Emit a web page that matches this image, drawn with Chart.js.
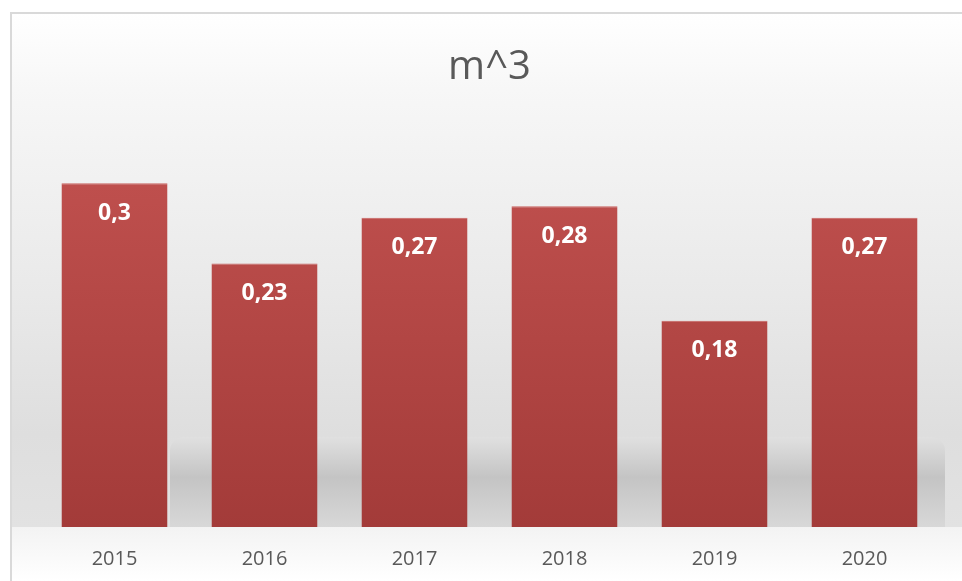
<!DOCTYPE html>
<html>
<head>
<meta charset="utf-8">
<script src="https://cdn.jsdelivr.net/npm/chart.js@4"></script>
<style>
  html, body { margin: 0; padding: 0; background: #fff; }
  #wrap { width: 962px; height: 581px; }
</style>
</head>
<body>
<div id="wrap"><canvas id="chart" width="962" height="581"></canvas></div>
<script>
// values
const years = ['2015', '2016', '2017', '2018', '2019', '2020'];
const volumes = [0.3, 0.23, 0.27, 0.28, 0.18, 0.27];
const valueLabels = ['0,3', '0,23', '0,27', '0,28', '0,18', '0,27'];

const FONT = "'Open Sans', 'Liberation Sans', sans-serif";

// backdrop: soft gray gradient, floor shadow and the thin frame
const backdrop = {
    id: 'backdrop',
    beforeDraw(chart) {
        const ctx = chart.ctx;
        const area = chart.chartArea;
        const w = chart.width, h = chart.height;
        ctx.save();
        ctx.fillStyle = '#fff';
        ctx.fillRect(0, 0, w, h);

        let g = ctx.createLinearGradient(0, 12, 0, area.bottom);
        g.addColorStop(0, '#ffffff');
        g.addColorStop(0.15, '#f7f7f7');
        g.addColorStop(0.55, '#e9e9e9');
        g.addColorStop(0.82, '#dedede');
        g.addColorStop(1, '#e2e2e2');
        ctx.fillStyle = g;
        ctx.fillRect(11, 13, w, area.bottom - 13);

        // floor shadow behind the bars
        const top = area.bottom - 90;
        g = ctx.createLinearGradient(0, top, 0, area.bottom);
        g.addColorStop(0, '#e0e0e0');
        g.addColorStop(0.45, '#c4c4c4');
        g.addColorStop(1, '#d8d8d8');
        ctx.fillStyle = g;
        ctx.beginPath();
        ctx.roundRect(170, top, 775, area.bottom - top, [14, 14, 0, 0]);
        ctx.fill();

        g = ctx.createLinearGradient(0, area.bottom, 0, h);
        g.addColorStop(0, '#f3f3f3');
        g.addColorStop(1, '#ffffff');
        ctx.fillStyle = g;
        ctx.fillRect(11, area.bottom, w, h - area.bottom);

        ctx.strokeStyle = '#d9d9d9';
        ctx.lineWidth = 2;
        ctx.strokeRect(11, 13, w + 20, h + 20);
        ctx.restore();
    }
};

// white value labels inside the top of each bar
const valueText = {
    id: 'valueText',
    afterDatasetsDraw(chart) {
        const ctx = chart.ctx;
        const meta = chart.getDatasetMeta(0);
        ctx.save();
        ctx.fillStyle = '#ffffff';
        ctx.font = 'bold 23px ' + FONT;
        ctx.textAlign = 'center';
        ctx.textBaseline = 'middle';
        meta.data.forEach((bar, i) => {
            ctx.fillText(valueLabels[i], bar.x, bar.y + 30);
        });
        ctx.restore();
    }
};

const ctx = document.getElementById('chart').getContext('2d');
new Chart(ctx, {
    type: 'bar',
    data: {
        labels: years,
        datasets: [{
            data: volumes,
            backgroundColor: function (c) {
                const area = c.chart.chartArea;
                if (!area) return '#b5474a';
                const g = c.chart.ctx.createLinearGradient(0, 150, 0, area.bottom);
                g.addColorStop(0, '#c1514f');
                g.addColorStop(1, '#a33b39');
                return g;
            },
            borderColor: '#c8625f',
            borderWidth: { top: 1, left: 0, right: 0, bottom: 0 },
            borderSkipped: 'bottom',
            barPercentage: 0.707,
            categoryPercentage: 1
        }]
    },
    options: {
        responsive: false,
        animation: false,
        layout: { padding: { left: 39.5, right: 22.5, top: 0, bottom: 12 } },
        plugins: {
            legend: { display: false },
            tooltip: { enabled: false },
            title: {
                display: true,
                text: 'm^3',
                color: '#595959',
                font: { family: FONT, size: 40, weight: 'normal' },
                padding: { top: 44, bottom: 34 }
            }
        },
        scales: {
            x: {
                grid: { display: false },
                border: { display: false },
                ticks: {
                    color: '#595959',
                    font: { family: FONT, size: 20 },
                    padding: 12
                },
                afterFit(scale) { scale.height = 42; }
            },
            y: {
                display: false,
                min: 0,
                max: 0.35
            }
        }
    },
    plugins: [backdrop, valueText]
});
</script>
</body>
</html>
